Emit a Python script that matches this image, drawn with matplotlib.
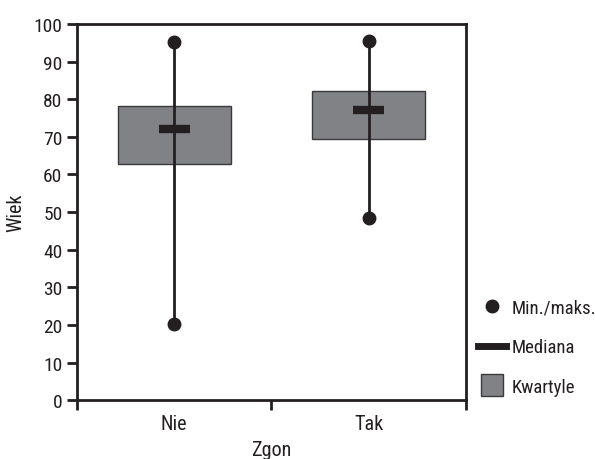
import matplotlib
matplotlib.use("Agg")
import matplotlib.pyplot as plt
from matplotlib.lines import Line2D

plt.rcParams['font.family'] = ['Roboto Condensed', 'Noto Sans', 'DejaVu Sans']
plt.rcParams['font.stretch'] = 'condensed'

groups = ["Nie", "Tak"]
q1 = [62.9, 69.3]
q3 = [78.3, 82.2]
medians = [72.2, 77.0]
mins = [20.3, 48.5]
maxs = [95.3, 95.4]

ink = '#231f20'
box_col = '#808285'

fig = plt.figure(figsize=(5.95, 4.6), dpi=100)
ax = fig.add_axes([0.1294, 0.128, 0.6538, 0.8177])

pos = [0.5, 1.5]
ax.bar(pos, [b - a for a, b in zip(q1, q3)], bottom=q1, width=0.58,
       color=box_col, edgecolor='#3a3a3a', linewidth=1.0, zorder=2)
ax.vlines(pos, mins, maxs, color=ink, linewidth=2, zorder=3)
ax.hlines(medians, [p - 0.08 for p in pos], [p + 0.08 for p in pos],
          color=ink, linewidth=6, zorder=4)
ax.plot(pos, mins, 'o', color=ink, markersize=9, zorder=5, linestyle='none')
ax.plot(pos, maxs, 'o', color=ink, markersize=9, zorder=5, linestyle='none')

ax.set_xlim(0, 2)
ax.set_ylim(0, 100)
ax.set_yticks(range(0, 101, 10))
ax.set_xticks([0, 1, 2])
ax.set_xticklabels([])
ax.set_xticks(pos, minor=True)
ax.set_xticklabels(groups, minor=True)
ax.tick_params(axis='x', which='minor', length=0, pad=10)
ax.tick_params(axis='both', which='major', length=7, width=2, color=ink,
               labelsize=14, labelcolor=ink)
ax.tick_params(axis='x', which='minor', labelsize=14.5, labelcolor=ink)

for s in ax.spines.values():
    s.set_linewidth(2)
    s.set_color(ink)

ax.set_xlabel("Zgon", fontsize=14.5, color=ink, labelpad=5)
ax.set_ylabel("Wiek", fontsize=14.5, color=ink, labelpad=6)

handles = [
    Line2D([], [], marker='o', color=ink, linestyle='none', markersize=9),
    Line2D([], [], color=ink, linewidth=5),
    Line2D([], [], marker='s', linestyle='none', markersize=16,
           markerfacecolor=box_col, markeredgecolor='#3a3a3a', markeredgewidth=1),
]
fig.legend(handles, ["Min./maks.", "Mediana", "Kwartyle"],
           loc='upper left', bbox_to_anchor=(0.775, 0.385), frameon=False,
           fontsize=13.5, labelcolor=ink, handlelength=1.5, handletextpad=0.3,
           labelspacing=1.15)

fig.savefig("out.png", dpi=100)
